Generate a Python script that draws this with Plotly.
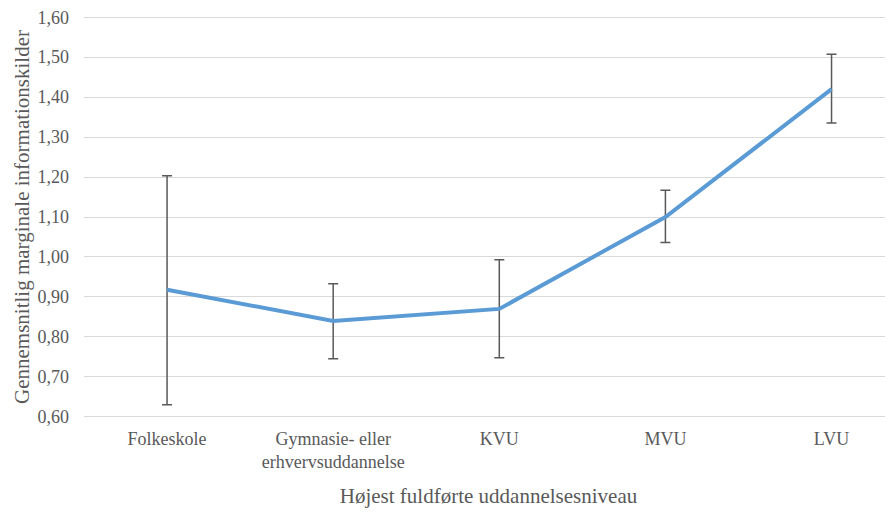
import plotly.graph_objects as go

categories = ["Folkeskole", "Gymnasie- eller<br>erhvervsuddannelse", "KVU", "MVU", "LVU"]
values = [0.918, 0.840, 0.870, 1.100, 1.420]
upper = [1.203, 0.933, 0.993, 1.167, 1.507]
lower = [0.630, 0.745, 0.748, 1.036, 1.335]
y_ticks = [0.6, 0.7, 0.8, 0.9, 1.0, 1.1, 1.2, 1.3, 1.4, 1.5, 1.6]
y_tick_labels = ["0,60", "0,70", "0,80", "0,90", "1,00", "1,10", "1,20", "1,30", "1,40", "1,50", "1,60"]

err_plus = [u - v for u, v in zip(upper, values)]
err_minus = [v - l for v, l in zip(values, lower)]

FONT = "Liberation Serif, Times New Roman, serif"
GRAY = "#595959"

fig = go.Figure()
fig.add_trace(go.Scatter(
    x=categories, y=values, mode="lines",
    line=dict(color="#5B9BD5", width=4),
    error_y=dict(type="data", symmetric=False, array=err_plus, arrayminus=err_minus,
                 color=GRAY, thickness=1.5, width=5),
    showlegend=False,
))

fig.update_layout(
    width=885, height=510,
    margin=dict(l=76, r=0, t=8, b=100),
    paper_bgcolor="white", plot_bgcolor="white",
    font=dict(family=FONT, size=18, color=GRAY),
    xaxis=dict(
        type="category", range=[-0.5, 4.37],
        showgrid=False, showline=False, zeroline=False,
        ticks="", ticklabelstandoff=8, tickfont=dict(size=18, color=GRAY),
        title=dict(text="Højest fuldførte uddannelsesniveau", font=dict(size=21, color=GRAY), standoff=16),
    ),
    yaxis=dict(
        range=[0.597, 1.603], tickvals=y_ticks, ticktext=y_tick_labels,
        showgrid=True, gridcolor="#D9D9D9", gridwidth=1.3,
        zeroline=False, showline=False, ticks="",
        ticklabelstandoff=14, ticklabeloverflow="allow",
        tickfont=dict(size=18, color=GRAY),
        title=dict(text="Gennemsnitlig marginale informationskilder", font=dict(size=21, color=GRAY), standoff=2),
    ),
)

fig.write_html("out.html")
